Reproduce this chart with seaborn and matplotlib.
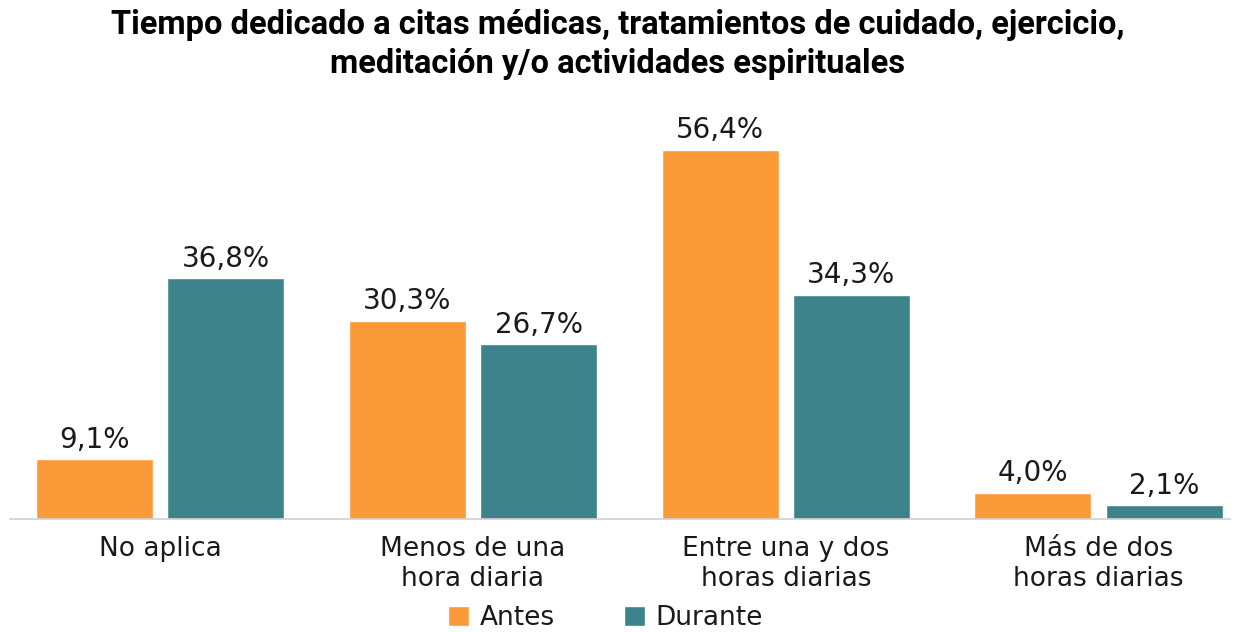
import pandas as pd
import matplotlib
matplotlib.use("Agg")
import matplotlib.pyplot as plt
import seaborn as sns


# Data

categories = ["No aplica", "Menos de una\nhora diaria", "Entre una y dos\nhoras diarias", "Más de dos\nhoras diarias"]
antes = [9.1, 30.3, 56.4, 4.0]
durante = [36.8, 26.7, 34.3, 2.1]
series = ["Antes", "Durante"]
colors = {"Antes": "#FB9A38", "Durante": "#3E838C"}

df = pd.DataFrame({
    "categoria": categories * 2,
    "periodo": [series[0]] * 4 + [series[1]] * 4,
    "valor": antes + durante,
})


# Plot

sns.set_theme(style="white")
plt.rcParams["font.family"] = ["DejaVu Sans"]

fig = plt.figure(figsize=(12.35, 6.32), dpi=100)
ax = fig.add_axes([0.008, 0.179, 0.988, 0.621])

sns.barplot(data=df, x="categoria", y="valor", hue="periodo", palette=colors,
            width=0.84, gap=0.11, saturation=1, ax=ax, legend=True)

for container in ax.containers:
    ax.bar_label(container, labels=[f"{v:.1f}%".replace(".", ",") for v in container.datavalues],
                 padding=4, fontsize=20, color="#1a1a1a")

ax.set_xlim(-0.48, 3.42)
ax.set_ylim(0, 60)
ax.set_yticks([])
ax.set_xlabel("")
ax.set_ylabel("")
ax.tick_params(axis="x", labelsize=19, colors="#1a1a1a", length=0, pad=12)
for lbl in ax.get_xticklabels():
    lbl.set_linespacing(1.2)
for s in ["top", "right", "left"]:
    ax.spines[s].set_visible(False)
ax.spines["bottom"].set_color("#d0d0d0")
ax.spines["bottom"].set_linewidth(1.2)

ax.legend(loc="center", bbox_to_anchor=(0.488, -0.252), ncol=2, frameon=False,
          fontsize=19, handlelength=0.8, handleheight=0.8, columnspacing=2.6,
          handletextpad=0.4, labelcolor="#1a1a1a")

fig.suptitle("Tiempo dedicado a citas médicas, tratamientos de cuidado, ejercicio,\nmeditación y/o actividades espirituales",
             fontsize=23.5, fontweight="bold", fontfamily="Roboto", color="black",
             y=0.985, x=0.5, linespacing=1.25)

fig.savefig("out.png", dpi=100, facecolor="white")
